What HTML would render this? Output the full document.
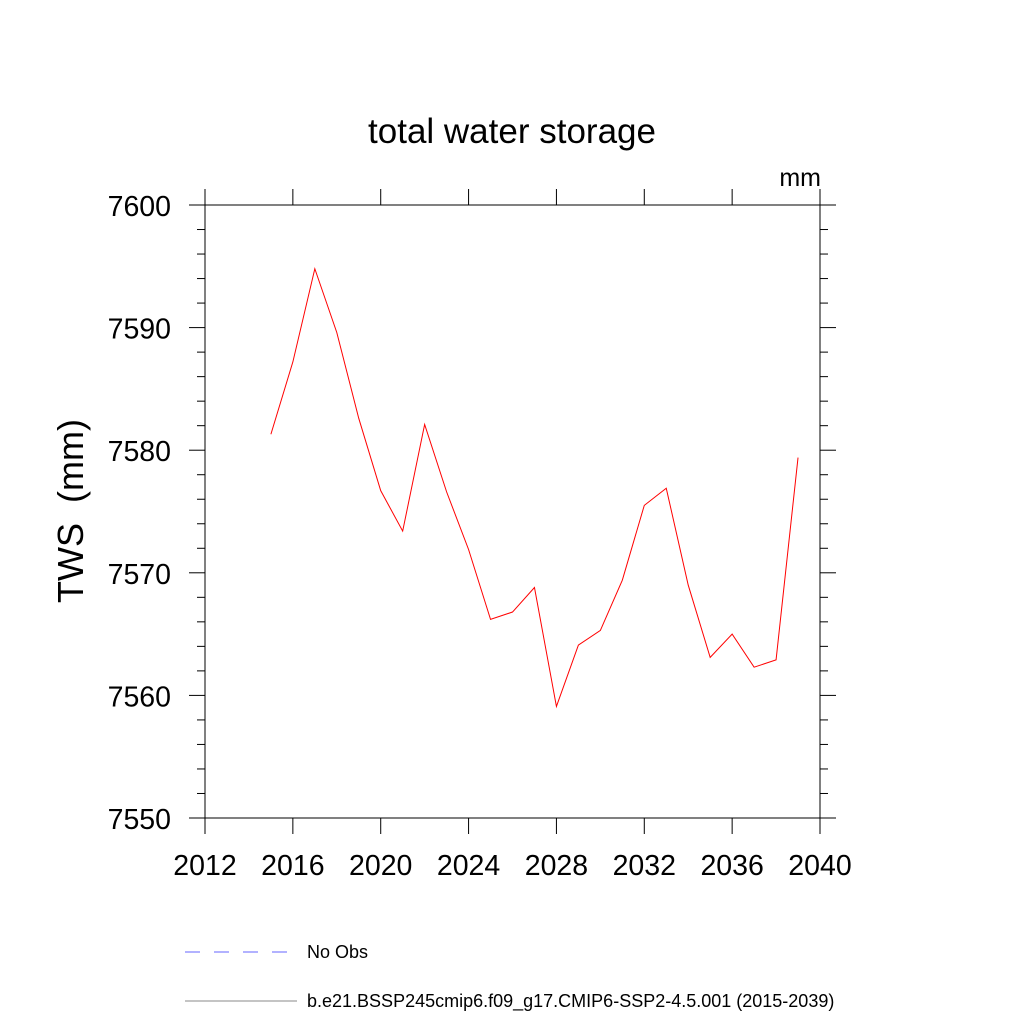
<!DOCTYPE html>
<html><head><meta charset="utf-8"><style>
body{margin:0;background:#fff}
svg{display:block;font-family:"Liberation Sans",sans-serif}
</style></head><body>
<svg id="c" width="1024" height="1024" viewBox="0 0 1024 1024">
<text x="512" y="143" font-size="35" text-anchor="middle">total water storage</text>
<text x="821" y="186" font-size="25" text-anchor="end">mm</text>
<text transform="translate(83,511) rotate(-90)" font-size="36" text-anchor="middle" style="white-space:pre">TWS  (mm)</text>
<rect x="205" y="205" width="615" height="613" fill="none" stroke="#000" stroke-width="1"/>
<g id="ticks"></g>
<polyline id="series" fill="none" stroke="#ff0000" stroke-width="1"/>
<g>
<line x1="185" y1="952" x2="292" y2="952" stroke="#6666ff" stroke-width="1" stroke-dasharray="15,14"/>
<text x="307" y="958" font-size="18">No Obs</text>
<line x1="185" y1="1001" x2="297" y2="1001" stroke="#888" stroke-width="1"/>
<text x="307" y="1007" font-size="18">b.e21.BSSP245cmip6.f09_g17.CMIP6-SSP2-4.5.001 (2015-2039)</text>
</g>
</svg>
<script>
const years=[2015,2016,2017,2018,2019,2020,2021,2022,2023,2024,2025,2026,2027,2028,2029,2030,2031,2032,2033,2034,2035,2036,2037,2038,2039];
const tws=[7581.3,7587.2,7594.8,7589.6,7582.6,7576.7,7573.4,7582.1,7576.6,7571.9,7566.2,7566.8,7568.8,7559.1,7564.1,7565.3,7569.4,7575.5,7576.9,7569.0,7563.1,7565.0,7562.3,7562.9,7579.4];
const xTicks=[2012,2016,2020,2024,2028,2032,2036,2040];
const yTicks=[7550,7560,7570,7580,7590,7600];
const NS='http://www.w3.org/2000/svg';
const X=v=>205+(v-2012)/28*615;
const Y=v=>818-(v-7550)/50*613;
const g=document.getElementById('ticks');
function ln(x1,y1,x2,y2,name){const l=document.createElementNS(NS,'line');l.setAttribute('x1',x1);l.setAttribute('y1',y1);l.setAttribute('x2',x2);l.setAttribute('y2',y2);l.setAttribute('stroke','#000');l.setAttribute('stroke-width','1');


g.appendChild(l);}
function tx(x,y,s,anchor,name){const t=document.createElementNS(NS,'text');t.setAttribute('x',x);t.setAttribute('y',y);t.setAttribute('font-size','28.5');t.setAttribute('text-anchor',anchor);t.textContent=s;


g.appendChild(t);}
xTicks.forEach(v=>{const x=X(v);ln(x,818,x,834,'x-tick');ln(x,205,x,189,'x-tick-top');tx(x,875,v,'middle','x-tick-label');});
yTicks.forEach(v=>{const y=Y(v);ln(205,y,189,y,'y-tick');ln(820,y,836,y,'y-tick-right');tx(171,y+11,v,'end','y-tick-label');});
for(let v=7550;v<=7600;v+=2){if(v%10===0)continue;const y=Y(v);ln(205,y,197,y,'y-minor-tick');ln(820,y,828,y,'y-minor-tick-right');}
document.getElementById('series').setAttribute('points',years.map((yr,i)=>X(yr)+','+Y(tws[i])).join(' '));
</script>
</body></html>
